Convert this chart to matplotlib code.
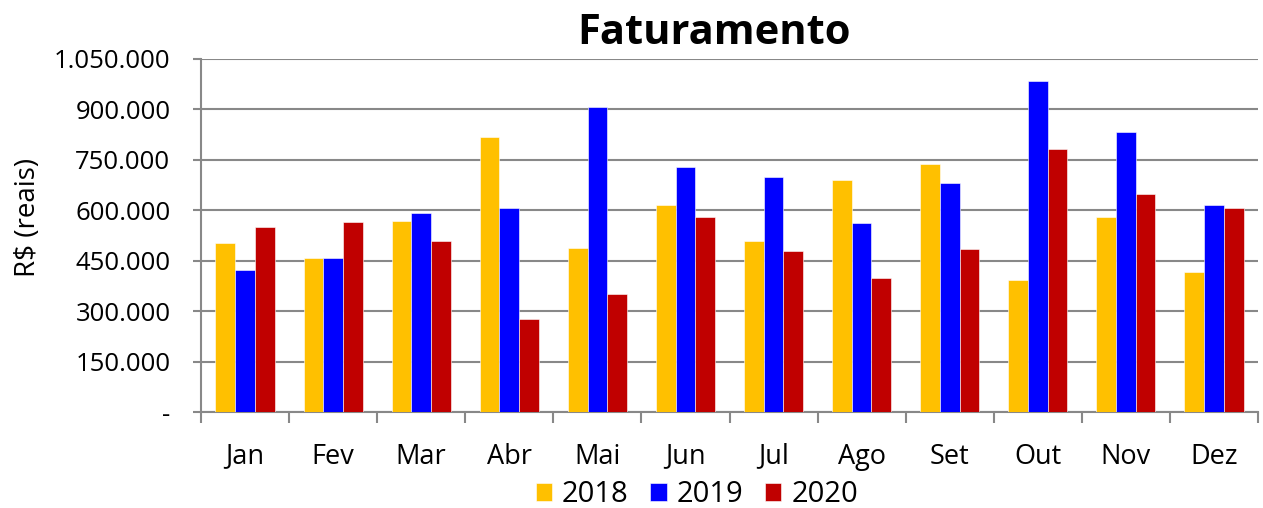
import matplotlib
matplotlib.use("Agg")
import matplotlib.pyplot as plt
import numpy as np
from matplotlib.ticker import FixedLocator, FuncFormatter

months = ["Jan", "Fev", "Mar", "Abr", "Mai", "Jun", "Jul", "Ago", "Set", "Out", "Nov", "Dez"]
series_names = ["2018", "2019", "2020"]
v2018 = [504000, 458000, 569000, 817000, 489000, 615000, 508000, 691000, 739000, 394000, 580000, 416000]
v2019 = [423000, 458000, 591000, 607000, 908000, 730000, 698000, 561000, 680000, 984000, 832000, 615000]
v2020 = [549000, 565000, 508000, 276000, 352000, 581000, 478000, 400000, 485000, 782000, 649000, 607000]
colors = ["#FFC000", "#0000FF", "#C00000"]
yticks = [0, 150000, 300000, 450000, 600000, 750000, 900000, 1050000]

plt.rcParams['font.family'] = ['Open Sans', 'DejaVu Sans']

fig = plt.figure(figsize=(12.63, 5.08), dpi=100)
ax = fig.add_axes([201/1263, (508-412)/508, (1258-201)/1263, (412-59)/508])

x = np.arange(len(months))
w = 0.224
for i, (vals, c, name) in enumerate(zip([v2018, v2019, v2020], colors, series_names)):
    ax.bar(x + (i - 1) * w, vals, width=w, color=c, label=name, zorder=3,
           edgecolor='white', linewidth=0.4)

ax.set_xlim(-0.5, len(months) - 0.5)
ax.set_ylim(0, 1050000)
ax.yaxis.set_major_locator(FixedLocator(yticks))

def fmt(v, pos):
    if v == 0:
        return "-"
    return f"{int(v):,}".replace(",", ".")
ax.yaxis.set_major_formatter(FuncFormatter(fmt))

ax.set_xticks(x)
ax.set_xticklabels(months)
ax.set_xticks(np.arange(-0.5, len(months), 1.0), minor=True)
ax.tick_params(axis='x', which='major', length=0, labelsize=19.5, pad=22)
ax.tick_params(axis='x', which='minor', length=8, width=1.5, color='#888888')
ax.tick_params(axis='y', length=6, width=1.5, color='#888888', labelsize=18.5, pad=16)

ax.grid(axis='y', color='#888888', linewidth=1.5, zorder=0)
for s in ['top', 'right']:
    ax.spines[s].set_visible(False)
for s in ['left', 'bottom']:
    ax.spines[s].set_color('#888888')
    ax.spines[s].set_linewidth(1.5)

ax.set_ylabel("R$ (reais)", fontsize=20)
ax.yaxis.set_label_coords((42 - 201) / 1057, (412 - 217) / 353)

fig.text(714/1263, 1 - 33/508, "Faturamento", ha='center', va='center',
         fontsize=30, fontweight='bold')

leg = fig.legend(loc='center', bbox_to_anchor=(697/1263, 1 - 495/508), ncol=3,
                 frameon=False, fontsize=21, handlelength=0.55, handleheight=0.55,
                 handletextpad=0.35, columnspacing=0.75)

fig.savefig("out.png", dpi=100)
